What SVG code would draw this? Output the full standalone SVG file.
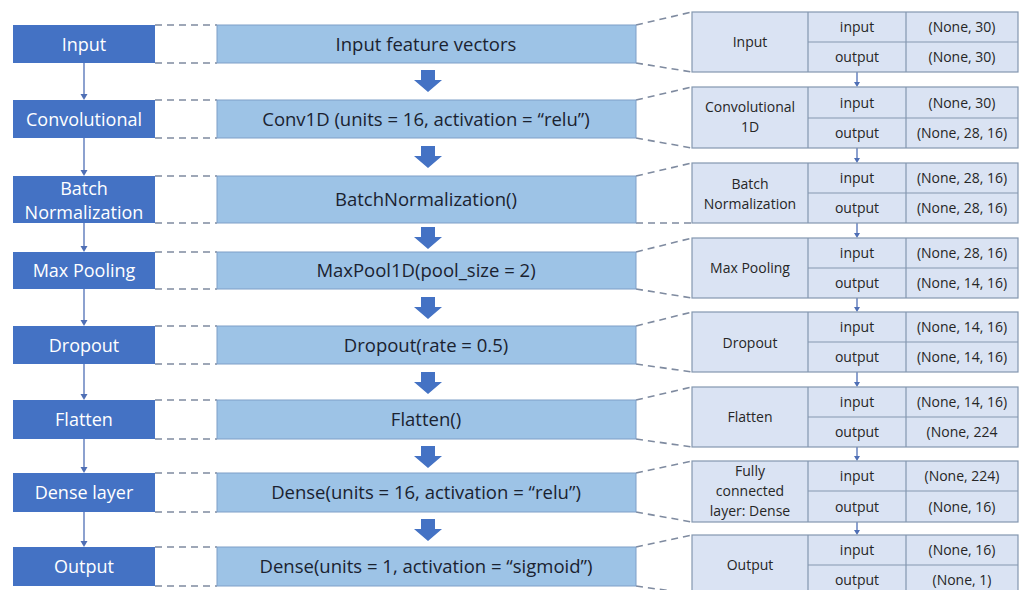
<svg xmlns="http://www.w3.org/2000/svg" width="1024" height="590" viewBox="0 0 1024 590">
<defs>
<style>
.lb{fill:#4472c4;}
.lt{font-family:"Open Sans","Noto Sans",sans-serif;font-size:18px;fill:#ffffff;text-anchor:middle;}
.mb{fill:#9dc3e6;stroke:#7f9fc8;stroke-width:1;}
.mt{font-family:"Open Sans","Noto Sans",sans-serif;font-size:18.5px;fill:#1a2230;text-anchor:middle;}
.tb{fill:#dae3f3;stroke:#8497b0;stroke-width:1.2;}
.tl{stroke:#8497b0;stroke-width:1.2;}
.tt{font-family:"Open Sans","Noto Sans",sans-serif;font-size:14px;fill:#262626;text-anchor:middle;}
.dash{stroke:#7f8ba0;stroke-width:1.6;stroke-dasharray:7 5;fill:none;}
.thin{stroke:#4f6fb5;stroke-width:1.3;fill:none;}
.fat{fill:#4472c4;}
.sm{fill:#4f6fb5;}
</style>
</defs>
<rect width="1024" height="590" fill="#ffffff"/>

<g id="connectors">
  <path class="dash" d="M155 25H217M155 63H217"/>
  <path class="dash" d="M155 100H217M155 138H217"/>
  <path class="dash" d="M155 176H217M155 223H217"/>
  <path class="dash" d="M155 252H217M155 289H217"/>
  <path class="dash" d="M155 326H217M155 364H217"/>
  <path class="dash" d="M155 400H217M155 439H217"/>
  <path class="dash" d="M155 473H217M155 512H217"/>
  <path class="dash" d="M155 547H217M155 586H217"/>
  <path class="dash" d="M636 25L692 12M636 63L692 72"/>
  <path class="dash" d="M636 100L692 87M636 138L692 148"/>
  <path class="dash" d="M636 176L692 163M636 223L692 223"/>
  <path class="dash" d="M636 252L692 238M636 289L692 298"/>
  <path class="dash" d="M636 326L692 312M636 364L692 372"/>
  <path class="dash" d="M636 400L692 387M636 439L692 447"/>
  <path class="dash" d="M636 473L692 461M636 512L692 522"/>
  <path class="dash" d="M636 547L692 535M636 586L692 594"/>
  <g>
    <path class="thin" d="M84 63V96"/><path class="sm" d="M80.5 94L87.5 94L84 100Z"/>
    <path class="thin" d="M84 138V172"/><path class="sm" d="M80.5 170L87.5 170L84 176Z"/>
    <path class="thin" d="M84 223V248"/><path class="sm" d="M80.5 246L87.5 246L84 252Z"/>
    <path class="thin" d="M84 289V322"/><path class="sm" d="M80.5 320L87.5 320L84 326Z"/>
    <path class="thin" d="M84 364V396"/><path class="sm" d="M80.5 394L87.5 394L84 400Z"/>
    <path class="thin" d="M84 439V469"/><path class="sm" d="M80.5 467L87.5 467L84 473Z"/>
    <path class="thin" d="M84 512V543"/><path class="sm" d="M80.5 541L87.5 541L84 547Z"/>
  </g>
  <g>
    <path class="fat" d="M421 70H435V80H442L428 92L414 80H421Z"/>
    <path class="fat" d="M421 146H435V156H442L428 168L414 156H421Z"/>
    <path class="fat" d="M421 227H435V237H442L428 249L414 237H421Z"/>
    <path class="fat" d="M421 297H435V307H442L428 319L414 307H421Z"/>
    <path class="fat" d="M421 372H435V382H442L428 394L414 382H421Z"/>
    <path class="fat" d="M421 446H435V456H442L428 468L414 456H421Z"/>
    <path class="fat" d="M421 519H435V529H442L428 541L414 529H421Z"/>
  </g>
  <g>
    <path class="thin" d="M857 72V84"/><path class="sm" d="M854 82L860 82L857 87Z"/>
    <path class="thin" d="M857 148V160"/><path class="sm" d="M854 158L860 158L857 163Z"/>
    <path class="thin" d="M857 223V235"/><path class="sm" d="M854 233L860 233L857 238Z"/>
    <path class="thin" d="M857 298V309"/><path class="sm" d="M854 307L860 307L857 312Z"/>
    <path class="thin" d="M857 372V384"/><path class="sm" d="M854 382L860 382L857 387Z"/>
    <path class="thin" d="M857 447V458"/><path class="sm" d="M854 456L860 456L857 461Z"/>
    <path class="thin" d="M857 522V532"/><path class="sm" d="M854 530L860 530L857 535Z"/>
  </g>
</g>

<g id="l-input"><rect class="lb" x="13" y="25" width="142" height="38"/><text class="lt" x="84" y="50.5">Input</text></g>
<g id="l-conv"><rect class="lb" x="13" y="100" width="142" height="38"/><text class="lt" x="84" y="125.5">Convolutional</text></g>
<g id="l-batch"><rect class="lb" x="13" y="176" width="142" height="47"/><text class="lt" x="84" y="195">Batch</text><text class="lt" x="84" y="219">Normalization</text></g>
<g id="l-maxpool"><rect class="lb" x="13" y="252" width="142" height="37"/><text class="lt" x="84" y="277">Max Pooling</text></g>
<g id="l-dropout"><rect class="lb" x="13" y="326" width="142" height="38"/><text class="lt" x="84" y="351.5">Dropout</text></g>
<g id="l-flatten"><rect class="lb" x="13" y="400" width="142" height="39"/><text class="lt" x="84" y="426">Flatten</text></g>
<g id="l-dense"><rect class="lb" x="13" y="473" width="142" height="39"/><text class="lt" x="84" y="499">Dense layer</text></g>
<g id="l-output"><rect class="lb" x="13" y="547" width="142" height="39"/><text class="lt" x="84" y="573">Output</text></g>

<g id="m-input"><rect class="mb" x="217" y="25" width="419" height="38"/><text class="mt" x="426" y="50.5">Input feature vectors</text></g>
<g id="m-conv"><rect class="mb" x="217" y="100" width="419" height="38"/><text class="mt" x="426" y="125.5">Conv1D (units = 16, activation = “relu”)</text></g>
<g id="m-batch"><rect class="mb" x="217" y="176" width="419" height="47"/><text class="mt" x="426" y="206">BatchNormalization()</text></g>
<g id="m-maxpool"><rect class="mb" x="217" y="252" width="419" height="37"/><text class="mt" x="426" y="277">MaxPool1D(pool_size = 2)</text></g>
<g id="m-dropout"><rect class="mb" x="217" y="326" width="419" height="38"/><text class="mt" x="426" y="351.5">Dropout(rate = 0.5)</text></g>
<g id="m-flatten"><rect class="mb" x="217" y="400" width="419" height="39"/><text class="mt" x="426" y="426">Flatten()</text></g>
<g id="m-dense"><rect class="mb" x="217" y="473" width="419" height="39"/><text class="mt" x="426" y="499">Dense(units = 16, activation = “relu”)</text></g>
<g id="m-output"><rect class="mb" x="217" y="547" width="419" height="39"/><text class="mt" x="426" y="573">Dense(units = 1, activation = “sigmoid”)</text></g>

<g id="t-input">
  <rect class="tb" x="692" y="12" width="326" height="60"/>
  <path class="tl" d="M808 12V72M906 12V72M808 42H1018"/>
  <text class="tt" x="750" y="47">Input</text>
  <text class="tt" x="857" y="32">input</text><text class="tt" x="962" y="32">(None, 30)</text>
  <text class="tt" x="857" y="62">output</text><text class="tt" x="962" y="62">(None, 30)</text>
</g>
<g id="t-conv">
  <rect class="tb" x="692" y="87" width="326" height="61"/>
  <path class="tl" d="M808 87V148M906 87V148M808 118H1018"/>
  <text class="tt" x="750" y="112">Convolutional</text><text class="tt" x="750" y="132">1D</text>
  <text class="tt" x="857" y="107.5">input</text><text class="tt" x="962" y="107.5">(None, 30)</text>
  <text class="tt" x="857" y="138">output</text><text class="tt" x="962" y="138">(None, 28, 16)</text>
</g>
<g id="t-batch">
  <rect class="tb" x="692" y="163" width="326" height="60"/>
  <path class="tl" d="M808 163V223M906 163V223M808 193H1018"/>
  <text class="tt" x="750" y="189">Batch</text><text class="tt" x="750" y="209">Normalization</text>
  <text class="tt" x="857" y="183">input</text><text class="tt" x="962" y="183">(None, 28, 16)</text>
  <text class="tt" x="857" y="213">output</text><text class="tt" x="962" y="213">(None, 28, 16)</text>
</g>
<g id="t-maxpool">
  <rect class="tb" x="692" y="238" width="326" height="60"/>
  <path class="tl" d="M808 238V298M906 238V298M808 268H1018"/>
  <text class="tt" x="750" y="273">Max Pooling</text>
  <text class="tt" x="857" y="258">input</text><text class="tt" x="962" y="258">(None, 28, 16)</text>
  <text class="tt" x="857" y="288">output</text><text class="tt" x="962" y="288">(None, 14, 16)</text>
</g>
<g id="t-dropout">
  <rect class="tb" x="692" y="312" width="326" height="60"/>
  <path class="tl" d="M808 312V372M906 312V372M808 342H1018"/>
  <text class="tt" x="750" y="347.5">Dropout</text>
  <text class="tt" x="857" y="332">input</text><text class="tt" x="962" y="332">(None, 14, 16)</text>
  <text class="tt" x="857" y="362">output</text><text class="tt" x="962" y="362">(None, 14, 16)</text>
</g>
<g id="t-flatten">
  <rect class="tb" x="692" y="387" width="326" height="60"/>
  <path class="tl" d="M808 387V447M906 387V447M808 417H1018"/>
  <text class="tt" x="750" y="422">Flatten</text>
  <text class="tt" x="857" y="407">input</text><text class="tt" x="962" y="407">(None, 14, 16)</text>
  <text class="tt" x="857" y="437">output</text><text class="tt" x="962" y="437">(None, 224</text>
</g>
<g id="t-dense">
  <rect class="tb" x="692" y="461" width="326" height="61"/>
  <path class="tl" d="M808 461V522M906 461V522M808 491H1018"/>
  <text class="tt" x="750" y="476">Fully</text><text class="tt" x="750" y="496">connected</text><text class="tt" x="750" y="516">layer: Dense</text>
  <text class="tt" x="857" y="481">input</text><text class="tt" x="962" y="481">(None, 224)</text>
  <text class="tt" x="857" y="511.5">output</text><text class="tt" x="962" y="511.5">(None, 16)</text>
</g>
<g id="t-output">
  <rect class="tb" x="692" y="535" width="326" height="60"/>
  <path class="tl" d="M808 535V595M906 535V595M808 565H1018"/>
  <text class="tt" x="750" y="570">Output</text>
  <text class="tt" x="857" y="555">input</text><text class="tt" x="962" y="555">(None, 16)</text>
  <text class="tt" x="857" y="585">output</text><text class="tt" x="962" y="585">(None, 1)</text>
</g>
</svg>
